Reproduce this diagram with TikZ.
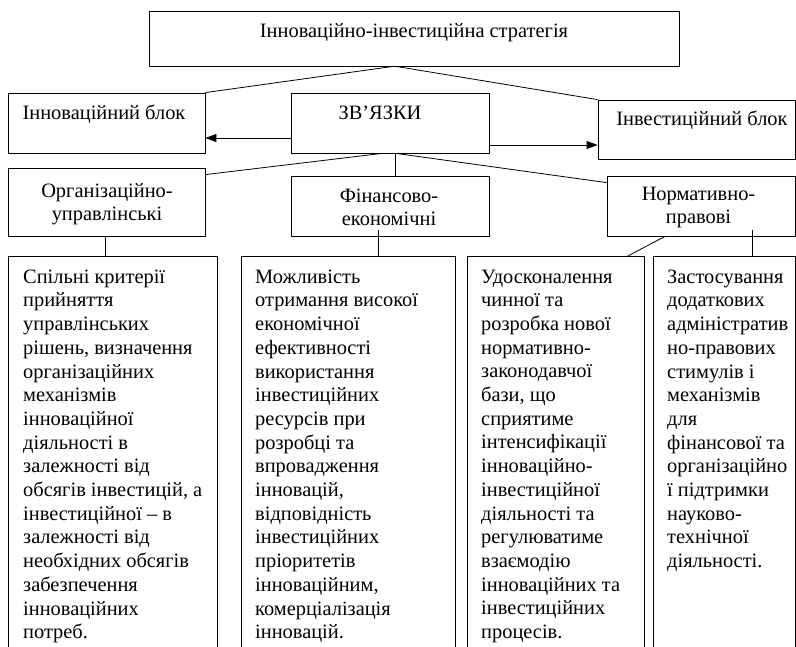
\documentclass[tikz,border=0pt]{standalone}
\usepackage{fontspec}
\setmainfont{Liberation Serif}
\usetikzlibrary{arrows.meta,calc}
\begin{document}
\begin{tikzpicture}[x=1pt,y=-1pt,
  box/.style={draw, line width=0.8pt, inner sep=0pt},
  lbl/.style={inner sep=0pt, font=\fontsize{20.4}{23}\selectfont, align=center, anchor=base},
  bodytext/.style={inner sep=0pt, font=\fontsize{20.4}{23.7}\selectfont, align=left, anchor=north west},
  conn/.style={line width=0.8pt},
  arr/.style={conn, -{Triangle[length=11pt,width=8pt]}}]
\useasboundingbox (0,0) rectangle (796,646);
% boxes
\node[box, minimum width=530, minimum height=55] (top) at (414,38.5) {};
\node[box, minimum width=197, minimum height=60] (innov) at (106.5,123) {};
\node[box, minimum width=198, minimum height=60] (zv) at (390,123) {};
\node[box, minimum width=197, minimum height=59] (invest) at (696.5,129.5) {};
\node[box, minimum width=197, minimum height=68] (org) at (106.5,202) {};
\node[box, minimum width=198, minimum height=60] (fin) at (390,206) {};
\node[box, minimum width=188, minimum height=60] (norm) at (701,206) {};
% bottom boxes (open at the bottom edge of the picture)
\node[box, anchor=north west, minimum width=209, minimum height=420] (b1) at (8,256) {};
\node[box, anchor=north west, minimum width=214, minimum height=420] (b2) at (241,256) {};
\node[box, anchor=north west, minimum width=177, minimum height=420] (b3) at (467,256) {};
\node[box, anchor=north west, minimum width=142, minimum height=420] (b4) at (653,256) {};
% labels
\node[lbl] (topt) at (414,37) {Інноваційно-інвестиційна стратегія};
\node[lbl] (innovt) at (104,119) {Інноваційний блок};
\node[lbl] (zvt) at (380,119) {ЗВ’ЯЗКИ};
\node[lbl] (investt) at (702,125) {Інвестиційний блок};
\node[lbl] (orgt) at (107,220) {Організаційно-\\управлінські};
\node[lbl] (fint) at (389,225) {Фінансово-\\економічні};
\node[lbl] (normt) at (698.5,223) {Нормативно-\\правові};
% body texts
\node[bodytext] (t1) at (23,269.5) {Спільні критерії\\прийняття\\управлінських\\рішень, визначення\\організаційних\\механізмів\\інноваційної\\діяльності в\\залежності від\\обсягів інвестицій, а\\інвестиційної – в\\залежності від\\необхідних обсягів\\забезпечення\\інноваційних\\потреб.};
\node[bodytext] (t2) at (255,269.5) {Можливість\\отримання високої\\економічної\\ефективності\\використання\\інвестиційних\\ресурсів при\\розробці та\\впровадження\\інновацій,\\відповідність\\інвестиційних\\пріоритетів\\інноваційним,\\комерціалізація\\інновацій.};
\node[bodytext] (t3) at (481,269.5) {Удосконалення\\чинної та\\розробка нової\\нормативно-\\законодавчої\\бази, що\\сприятиме\\інтенсифікації\\інноваційно-\\інвестиційної\\діяльності та\\регулюватиме\\взаємодію\\інноваційних та\\інвестиційних\\процесів.};
\node[bodytext] (t4) at (667,269.5) {Застосування\\додаткових\\адміністратив\\но-правових\\стимулів і\\механізмів\\для\\фінансової та\\організаційно\\ї підтримки\\науково-\\технічної\\діяльності.};
% connectors
\draw[conn] ([xshift=-21pt]top.south) -- (innov.north east);
\draw[conn] ([xshift=-18pt]top.south) -- (invest.north west);
\draw[arr] ([yshift=-15pt]zv.west) -- ([yshift=-15pt]zv.west -| innov.east);
\draw[arr] ([yshift=-22pt]zv.east) -- ([yshift=-22pt]zv.east -| invest.west);
\draw[conn] ([xshift=-8pt]zv.south) -- ([yshift=-7pt]org.north east);
\draw[conn] ([xshift=5pt]zv.south) coordinate (z1) -- (z1 |- fin.north);
\draw[conn] ([xshift=6pt]zv.south) -- ([yshift=-7pt]norm.north west);
\draw[conn] ([xshift=-1.5pt]org.south) coordinate (o1) -- (o1 |- b1.north);
\draw[conn] ([xshift=-12pt,yshift=6pt]fin.south) coordinate (f1) -- (f1 |- b2.north);
\draw[conn] ([xshift=51pt,yshift=6pt]norm.south) coordinate (n1) -- (n1 |- b4.north);
\draw[conn] ([xshift=-36pt]norm.south) -- ([xshift=-17pt]b3.north east);
\end{tikzpicture}
\end{document}
